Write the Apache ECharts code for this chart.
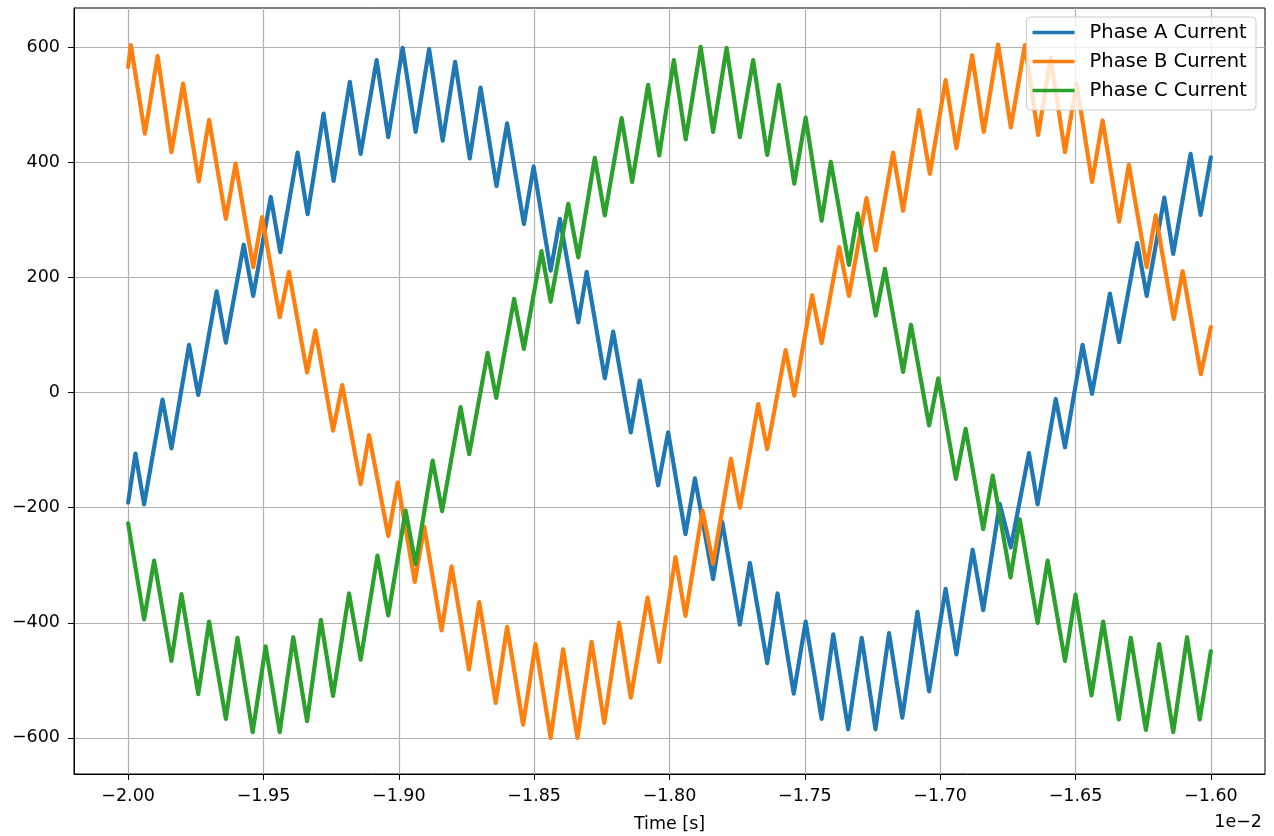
<!DOCTYPE html>
<html>
<head>
<meta charset="utf-8">
<script src="https://cdn.jsdelivr.net/npm/echarts@6/dist/echarts.min.js"></script>
<style>
  html, body { margin: 0; padding: 0; background: #ffffff; }
  #chart { width: 1274px; height: 836px; }
</style>
</head>
<body>
<div id="chart"></div>
<script>
// Three-phase inverter currents: switching-ripple vertices (time in s, current in A)
const phaseATime = [
  -0.020000, -0.019973, -0.019941, -0.019873, -0.019840, -0.019775, -0.019741, -0.019673, -0.019639, -0.019573,
  -0.019538, -0.019473, -0.019438, -0.019374, -0.019337, -0.019278, -0.019241, -0.019181, -0.019141, -0.019082,
  -0.019039, -0.018986, -0.018938, -0.018888, -0.018838, -0.018792, -0.018738, -0.018698, -0.018639, -0.018600,
  -0.018538, -0.018502, -0.018439, -0.018405, -0.018337, -0.018306, -0.018239, -0.018208, -0.018143, -0.018110,
  -0.018042, -0.018005, -0.017941, -0.017906, -0.017839, -0.017805, -0.017740, -0.017703, -0.017639, -0.017601,
  -0.017541, -0.017497, -0.017438, -0.017395, -0.017340, -0.017290, -0.017239, -0.017189, -0.017140, -0.017084,
  -0.017041, -0.016980, -0.016940, -0.016880, -0.016841, -0.016780, -0.016739, -0.016672, -0.016640, -0.016573,
  -0.016539, -0.016474, -0.016439, -0.016373, -0.016339, -0.016272, -0.016237, -0.016172, -0.016139, -0.016075,
  -0.016038, -0.016000
];
const phaseAValues = [
  -191, -106, -194, -12, -97, 83, -4, 176, 87, 257,
  168, 340, 244, 417, 310, 485, 368, 540, 415, 578,
  444, 599, 453, 597, 438, 575, 407, 530, 359, 468,
  293, 393, 212, 302, 122, 210, 25, 106, -69, 21,
  -161, -69, -246, -149, -324, -225, -403, -296, -470, -349,
  -523, -398, -567, -420, -585, -426, -585, -418, -565, -381,
  -519, -341, -455, -273, -378, -193, -269, -105, -194, -11,
  -95, 83, -2, 172, 88, 260, 168, 339, 241, 415,
  309, 409
];

const phaseBTime = [
  -0.020000, -0.019990, -0.019938, -0.019891, -0.019840, -0.019797, -0.019739, -0.019701, -0.019639, -0.019603,
  -0.019538, -0.019505, -0.019440, -0.019406, -0.019339, -0.019308, -0.019243, -0.019209, -0.019141, -0.019110,
  -0.019039, -0.019004, -0.018941, -0.018906, -0.018842, -0.018805, -0.018741, -0.018703, -0.018642, -0.018600,
  -0.018541, -0.018495, -0.018439, -0.018393, -0.018340, -0.018288, -0.018241, -0.018186, -0.018143, -0.018081,
  -0.018038, -0.017978, -0.017941, -0.017878, -0.017839, -0.017773, -0.017740, -0.017672, -0.017639, -0.017571,
  -0.017539, -0.017473, -0.017438, -0.017373, -0.017337, -0.017272, -0.017238, -0.017174, -0.017137, -0.017078,
  -0.017038, -0.016980, -0.016940, -0.016882, -0.016839, -0.016786, -0.016739, -0.016687, -0.016638, -0.016592,
  -0.016539, -0.016496, -0.016439, -0.016400, -0.016339, -0.016303, -0.016237, -0.016204, -0.016137, -0.016104,
  -0.016037, -0.016000
];
const phaseBValues = [
  566, 604, 450, 585, 418, 537, 367, 474, 302, 398,
  218, 305, 131, 210, 35, 108, -66, 13, -159, -74,
  -249, -156, -329, -233, -413, -302, -481, -364, -539, -407,
  -577, -437, -600, -446, -600, -433, -574, -400, -530, -356,
  -468, -286, -388, -205, -297, -115, -200, -20, -98, 74,
  -5, 169, 86, 253, 168, 338, 247, 417, 316, 491,
  380, 543, 425, 586, 453, 605, 461, 604, 448, 582,
  418, 537, 366, 473, 297, 396, 218, 308, 128, 211,
  32, 114
];

const phaseCTime = [
  -0.020000, -0.019941, -0.019904, -0.019840, -0.019803, -0.019741, -0.019701, -0.019639, -0.019596, -0.019540,
  -0.019492, -0.019440, -0.019390, -0.019339, -0.019288, -0.019243, -0.019184, -0.019141, -0.019079, -0.019039,
  -0.018975, -0.018938, -0.018875, -0.018840, -0.018772, -0.018740, -0.018672, -0.018640, -0.018574, -0.018538,
  -0.018473, -0.018439, -0.018374, -0.018337, -0.018276, -0.018239, -0.018177, -0.018138, -0.018079, -0.018038,
  -0.017984, -0.017940, -0.017885, -0.017839, -0.017789, -0.017740, -0.017691, -0.017639, -0.017596, -0.017539,
  -0.017497, -0.017438, -0.017404, -0.017337, -0.017305, -0.017238, -0.017204, -0.017137, -0.017108, -0.017041,
  -0.017007, -0.016942, -0.016906, -0.016841, -0.016806, -0.016740, -0.016706, -0.016640, -0.016603, -0.016539,
  -0.016500, -0.016441, -0.016398, -0.016340, -0.016296, -0.016240, -0.016191, -0.016139, -0.016088, -0.016041,
  -0.016000
];
const phaseCValues = [
  -227, -394, -292, -466, -350, -524, -398, -567, -426, -590,
  -441, -590, -425, -571, -395, -527, -349, -464, -283, -387,
  -205, -298, -118, -206, -25, -107, 69, -9, 163, 76,
  246, 158, 328, 235, 408, 308, 477, 366, 535, 412,
  578, 440, 601, 453, 599, 444, 578, 413, 535, 363,
  478, 299, 401, 222, 311, 134, 215, 36, 118, -57,
  25, -150, -63, -237, -144, -321, -220, -400, -292, -466,
  -351, -526, -398, -568, -426, -586, -437, -590, -425, -568,
  -449
];

const seriesNames = ['Phase A Current', 'Phase B Current', 'Phase C Current'];
const xTickValues = [-0.0200, -0.0195, -0.0190, -0.0185, -0.0180, -0.0175, -0.0170, -0.0165, -0.0160];
const yTickValues = [-600, -400, -200, 0, 200, 400, 600];

const FONT = 'DejaVu Sans';
const colors = ['#1f77b4', '#ff7f0e', '#2ca02c'];

function pairs(t, v) { return t.map((x, i) => [x, v[i]]); }
function withMinus(s) { return String(s).replace('-', '\u2212'); }

const chart = echarts.init(document.getElementById('chart'), null, { renderer: 'canvas' });

const lineSeries = [
  [phaseATime, phaseAValues],
  [phaseBTime, phaseBValues],
  [phaseCTime, phaseCValues]
].map(([t, v], i) => ({
  name: seriesNames[i],
  type: 'line',
  data: pairs(t, v),
  showSymbol: false,
  symbol: 'none',
  silent: true,
  clip: true,
  color: colors[i],
  lineStyle: { color: colors[i], width: 4.2, join: 'round', cap: 'round' },
  emphasis: { disabled: true }
}));

chart.setOption({
  animation: false,
  backgroundColor: '#ffffff',
  grid: {
    left: 74, top: 8, width: 1191, height: 766,
    outerBoundsMode: 'none',
    containLabel: false,
    show: true, borderColor: '#000000', borderWidth: 1, backgroundColor: 'transparent'
  },
  xAxis: {
    type: 'value',
    min: -0.0202, max: -0.0158,
    axisLine: { show: true, onZero: false, lineStyle: { color: '#000000', width: 1 } },
    axisTick: { show: true, length: 6, customValues: xTickValues, lineStyle: { color: '#000000', width: 1 } },
    axisLabel: {
      customValues: xTickValues,
      formatter: v => withMinus((v * 100).toFixed(2)),
      fontFamily: FONT, fontSize: 17.5, color: '#000000', margin: 13
    },
    splitLine: { show: true, lineStyle: { color: '#b0b0b0', width: 1.2 } },
    name: 'Time [s]',
    nameLocation: 'middle',
    nameGap: 41,
    nameTextStyle: { fontFamily: FONT, fontSize: 17.5, color: '#000000' }
  },
  yAxis: {
    type: 'value',
    min: -662.7, max: 668.4,
    axisLine: { show: true, onZero: false, lineStyle: { color: '#000000', width: 1 } },
    axisTick: { show: true, length: 6, customValues: yTickValues, lineStyle: { color: '#000000', width: 1 } },
    axisLabel: {
      customValues: yTickValues,
      formatter: v => withMinus(v),
      fontFamily: FONT, fontSize: 17.5, color: '#000000', margin: 14
    },
    splitLine: { show: true, lineStyle: { color: '#b0b0b0', width: 1.2 } }
  },
  legend: {
    data: seriesNames,
    orient: 'vertical',
    right: 18, top: 17,
    icon: 'rect',
    itemWidth: 42, itemHeight: 3.3,
    itemGap: 0,
    padding: [1, 9, 5, 6],
    backgroundColor: 'rgba(255,255,255,0.8)',
    borderColor: '#cccccc', borderWidth: 1, borderRadius: 4,
    selectedMode: false,
    textStyle: { fontFamily: FONT, fontSize: 19.5, color: '#000000', lineHeight: 29, padding: [0, 0, 0, 10] }
  },
  graphic: [{
    type: 'text',
    right: 12, top: 813,
    style: { text: '1e\u22122', font: '17.5px "DejaVu Sans"', fill: '#000000' }
  }],
  series: lineSeries
});
</script>
</body>
</html>
